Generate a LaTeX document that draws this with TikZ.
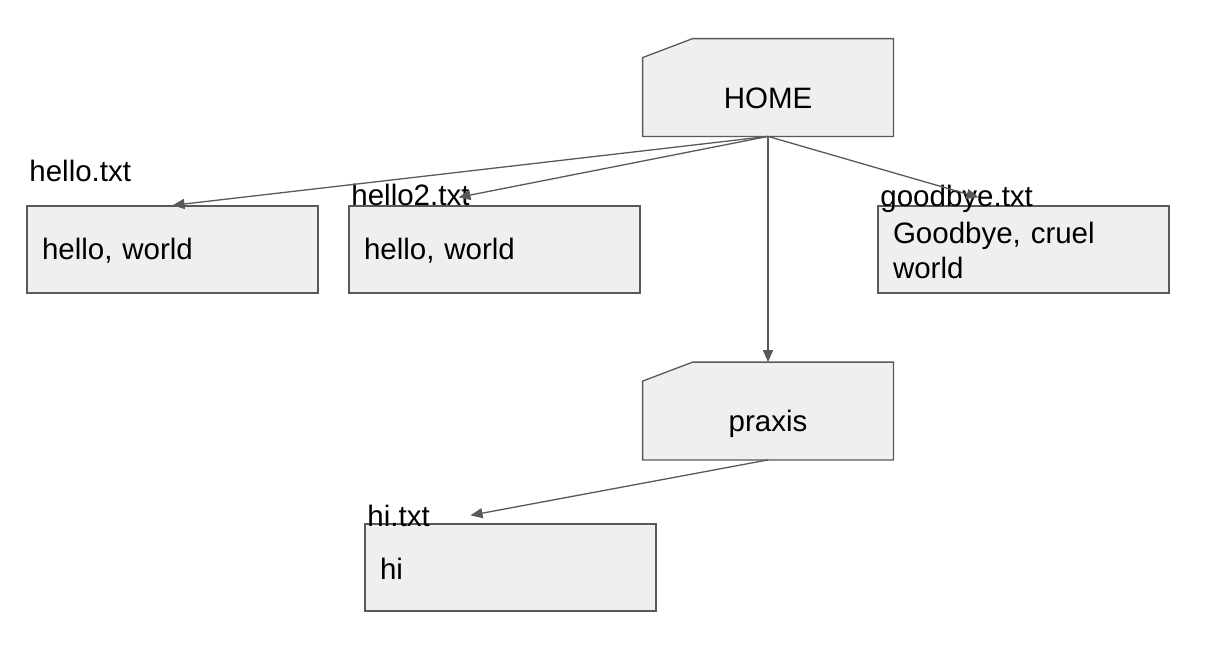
\documentclass[tikz,border=0pt]{standalone}
\usepackage{fontspec}
\setmainfont{Liberation Sans}
\usepackage{tikz}
\usetikzlibrary{arrows.meta,backgrounds}
\definecolor{edge}{HTML}{595959}
\definecolor{paper}{HTML}{EFEFEF}
\tikzset{
  folder/.style={rectangle, minimum width=125pt, minimum height=48.5pt,
    inner sep=0pt, text height=20.5pt, text depth=0pt},
  outline/.style={draw=edge, fill=paper, line width=0.65pt},
  textfile/.style={rectangle, outline, minimum width=145.5pt,
    minimum height=43.5pt, text width=130.5pt, inner xsep=7.5pt,
    inner ysep=0pt, text height=11.5pt, align=left},
  fname/.style={anchor=base west, inner sep=0pt},
  link/.style={draw=edge, line width=0.65pt, -{Triangle[length=6pt,width=5pt]}}
}
\begin{document}
\begin{tikzpicture}[x=0.5pt,y=-0.5pt,
  every node/.append style={font=\fontsize{14.75pt}{17.5pt}\selectfont}]
\useasboundingbox (0,0) rectangle (1224,644);

% folders
\node[folder] (home) at (768,87.5) {HOME};
\node[folder] (praxis) at (768,411) {praxis};
\begin{scope}[on background layer]
\foreach \f in {home,praxis}
  \draw[outline] (\f.south west) -- ([yshift=-9.5pt]\f.north west)
    -- ([xshift=25pt]\f.north west) -- (\f.north east)
    -- (\f.south east) -- cycle;
\end{scope}

% files
\node[textfile] (hello) at (172.5,249.5) {hello, world};
\node[textfile] (hello2) at (494.5,249.5) {hello, world};
\node[textfile] (goodbye) at (1023.5,249.5) {Goodbye, cruel\\world};
\node[textfile] (hi) at (510.5,567.5) {hi};

% file names
\node[fname] (hello name) at (29,181) {hello.txt};
\node[fname] (hello2 name) at (351,205) {hello2.txt};
\node[fname] (goodbye name) at (880,206) {goodbye.txt};
\node[fname] (hi name) at (367,526) {hi.txt};

% links
\draw[link] (home.south) -- (hello.north);
\draw[link] (home.south) -- ([xshift=-18pt,yshift=4pt]hello2.north);
\draw[link] (home.south) -- (praxis.north);
\draw[link] (home.south) -- ([xshift=-22.5pt,yshift=4pt]goodbye.north);
\draw[link] (praxis.south) -- ([xshift=-20pt,yshift=4pt]hi.north);
\end{tikzpicture}
\end{document}
